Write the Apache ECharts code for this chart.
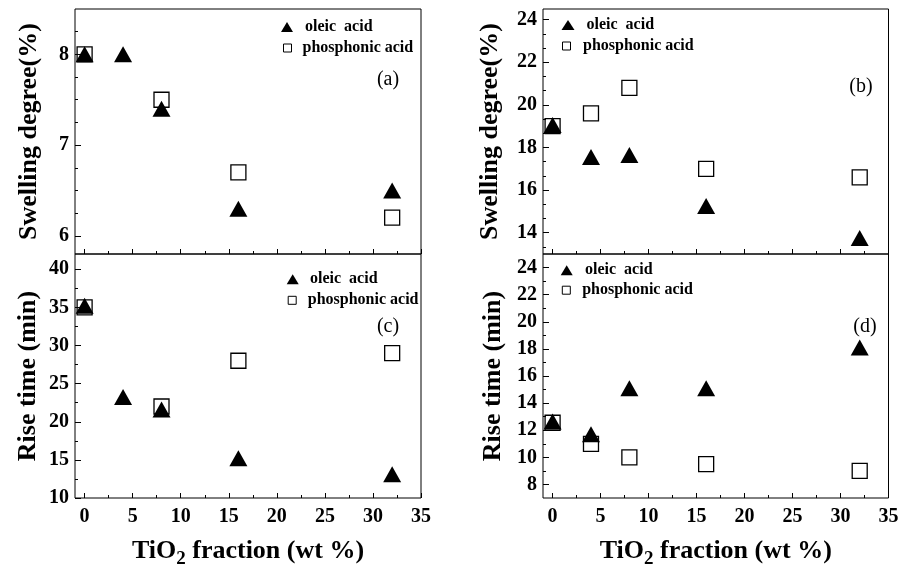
<!DOCTYPE html>
<html><head><meta charset="utf-8">
<script src="https://cdn.jsdelivr.net/npm/echarts@6/dist/echarts.min.js"></script>
<style>html,body{margin:0;padding:0;background:#fff}#c{width:900px;height:566px}</style>
</head><body><div id="c"></div>
<script>
// ---- data ----
const xValues = [0, 4, 8, 16, 32];
const oleicA = [8.0, 8.0, 7.4, 6.3, 6.5];
const phosA  = [8.0, null, 7.5, 6.7, 6.2];
const oleicB = [19.05, 17.55, 17.65, 15.25, 13.75];
const phosB  = [19.0, 19.6, 20.8, 17.0, 16.6];
const oleicC = [35.2, 23.25, 21.6, 15.2, 13.1];
const phosC  = [35.0, null, 22.0, 28.0, 29.0];
const oleicD = [12.65, 11.7, 15.1, 15.1, 18.1];
const phosD  = [12.55, 11.0, 10.0, 9.5, 9.0];

const xTicks = [0, 5, 10, 15, 20, 25, 30, 35];
const xMinor = [2.5, 7.5, 12.5, 17.5, 22.5, 27.5, 32.5];
const yTicksA = [6, 7, 8];
const yMinorA = [6.25, 6.5, 6.75, 7.25, 7.5, 7.75, 8.25];
const yTicksB = [14, 16, 18, 20, 22, 24];
const yMinorB = [13.333, 14.667, 15.333, 16.667, 17.333, 18.667, 19.333, 20.667, 21.333, 22.667, 23.333];
const yTicksC = [10, 15, 20, 25, 30, 35, 40];
const yMinorC = [12.5, 17.5, 22.5, 27.5, 32.5, 37.5];
const yTicksD = [8, 10, 12, 14, 16, 18, 20, 22, 24];
const yMinorD = [9, 11, 13, 15, 17, 19, 21, 23];

const nameOleic = 'oleic  acid';
const namePhos = 'phosphonic acid';
const panelLabels = ['(a)', '(b)', '(c)', '(d)'];
const yTitles = ['Swelling degree(%)', 'Swelling degree(%)', 'Rise time (min)', 'Rise time (min)'];

// ---- layout ----
const FF = '"Liberation Serif","Times New Roman",serif';
const panels = [
  {grid:{left:75, top:9, width:346, height:245}, ymin:5.8, ymax:8.5, yt:yTicksA, ym:yMinorA, ol:oleicA, ph:phosA, bottom:false, gap:33,
   lab:[388,80], leg:[[281,19,12,10,7],[283,40,8,8,6]]},
  {grid:{left:543, top:9, width:345.5, height:245}, ymin:13, ymax:24.5, yt:yTicksB, ym:yMinorB, ol:oleicB, ph:phosB, bottom:false, gap:40,
   lab:[861,87], leg:[[561.5,17,13,10,7],[562,38,8,8,7.5]]},
  {grid:{left:75, top:254, width:346, height:244}, ymin:10, ymax:42, yt:yTicksC, ym:yMinorC, ol:oleicC, ph:phosC, bottom:true, gap:34,
   lab:[388,327], leg:[[286.7,271.3,12,10,6.3],[287.7,292.3,8,8,6.6]]},
  {grid:{left:543, top:254, width:345.5, height:244}, ymin:7, ymax:25, yt:yTicksD, ym:yMinorD, ol:oleicD, ph:phosD, bottom:true, gap:37,
   lab:[865,327], leg:[[560.7,262.3,12,10,7.3],[561.8,282.2,8,8,6.9]]}
];

const grids = [], xAxes = [], yAxes = [], series = [], legends = [], graphics = [];
const labelFont = {fontFamily:FF, fontWeight:'bold', fontSize:20, color:'#000'};

panels.forEach((p, i) => {
  grids.push(Object.assign({show:true, borderColor:'#000', borderWidth:1, backgroundColor:'transparent',
    containLabel:false, outerBoundsMode:'none'}, p.grid));
  const xMain = {
    gridIndex:i, type:'value', min:-1, max:35, position:'bottom',
    axisLine:{show:false, onZero:false}, splitLine:{show:false},
    axisTick:{show:true, inside:true, length:5, customValues:xTicks, lineStyle:{color:'#000', width:1}},
    axisLabel:Object.assign({show:p.bottom, customValues:xTicks, margin:9}, labelFont)
  };
  if (p.bottom) {
    xMain.name = '{n|TiO}{s|2}{n| fraction (wt %)}';
    xMain.nameLocation = 'middle';
    xMain.nameGap = 36;
    xMain.nameTextStyle = {rich:{
      n:{fontFamily:FF, fontWeight:'bold', fontSize:26, color:'#000', lineHeight:30, verticalAlign:'bottom'},
      s:{fontFamily:FF, fontWeight:'bold', fontSize:19, color:'#000', verticalAlign:'bottom', padding:[0,0,-5,0]}
    }};
  }
  xAxes.push(xMain);
  xAxes.push({
    gridIndex:i, type:'value', min:-1, max:35, position:'bottom',
    axisLine:{show:false, onZero:false}, splitLine:{show:false}, axisLabel:{show:false},
    axisTick:{show:true, inside:true, length:3, customValues:xMinor, lineStyle:{color:'#000', width:1}}
  });
  yAxes.push({
    gridIndex:i, type:'value', min:p.ymin, max:p.ymax, position:'left',
    axisLine:{show:false, onZero:false}, splitLine:{show:false},
    axisTick:{show:true, inside:true, length:6, customValues:p.yt, lineStyle:{color:'#000', width:1}},
    axisLabel:Object.assign({customValues:p.yt, margin:6}, labelFont),
    name:yTitles[i], nameLocation:'middle', nameGap:p.gap,
    nameTextStyle:{fontFamily:FF, fontWeight:'bold', fontSize:26, color:'#000'}
  });
  yAxes.push({
    gridIndex:i, type:'value', min:p.ymin, max:p.ymax, position:'left',
    axisLine:{show:false, onZero:false}, splitLine:{show:false}, axisLabel:{show:false},
    axisTick:{show:true, inside:true, length:3, customValues:p.ym, lineStyle:{color:'#000', width:1}}
  });
  series.push({
    type:'scatter', name:namePhos, xAxisIndex:2*i, yAxisIndex:2*i, symbol:'rect', symbolSize:15,
    itemStyle:{color:'rgba(0,0,0,0)', borderColor:'#000', borderWidth:1.3, opacity:1}, silent:true,
    data:xValues.map((x, k) => [x, p.ph[k]]).filter(d => d[1] !== null)
  });
  series.push({
    type:'scatter', name:nameOleic, xAxisIndex:2*i, yAxisIndex:2*i, symbol:'triangle', symbolSize:[18,16],
    itemStyle:{color:'#000', opacity:1}, silent:true,
    data:xValues.map((x, k) => [x, p.ol[k]]).filter(d => d[1] !== null)
  });
  [[nameOleic, {color:'#000', opacity:1}], [namePhos, {color:'#fff', borderColor:'#000', borderWidth:1, opacity:1}]].forEach((it, j) => {
    const L = p.leg[j];
    legends.push({
      data:[{name:it[0], icon: j === 0 ? 'triangle' : 'rect'}], left:L[0], top:L[1], itemWidth:L[2], itemHeight:L[3],
      padding:0, selectedMode:false, itemStyle:it[1],
      textStyle:{fontFamily:FF, fontWeight:'bold', fontSize:16, color:'#000', padding:[0,0,0,L[4]]}
    });
  });
  graphics.push({type:'text', x:p.lab[0], y:p.lab[1], silent:true,
    style:{text:panelLabels[i], fontFamily:FF, fontSize:20, fill:'#000', align:'center', verticalAlign:'middle', textAlign:'center', textVerticalAlign:'middle'}});
});

const chart = echarts.init(document.getElementById('c'), null, {renderer:'canvas'});
chart.setOption({
  animation:false, backgroundColor:'#fff',
  grid:grids, xAxis:xAxes, yAxis:yAxes, series:series, legend:legends, graphic:graphics
});
</script></body></html>
